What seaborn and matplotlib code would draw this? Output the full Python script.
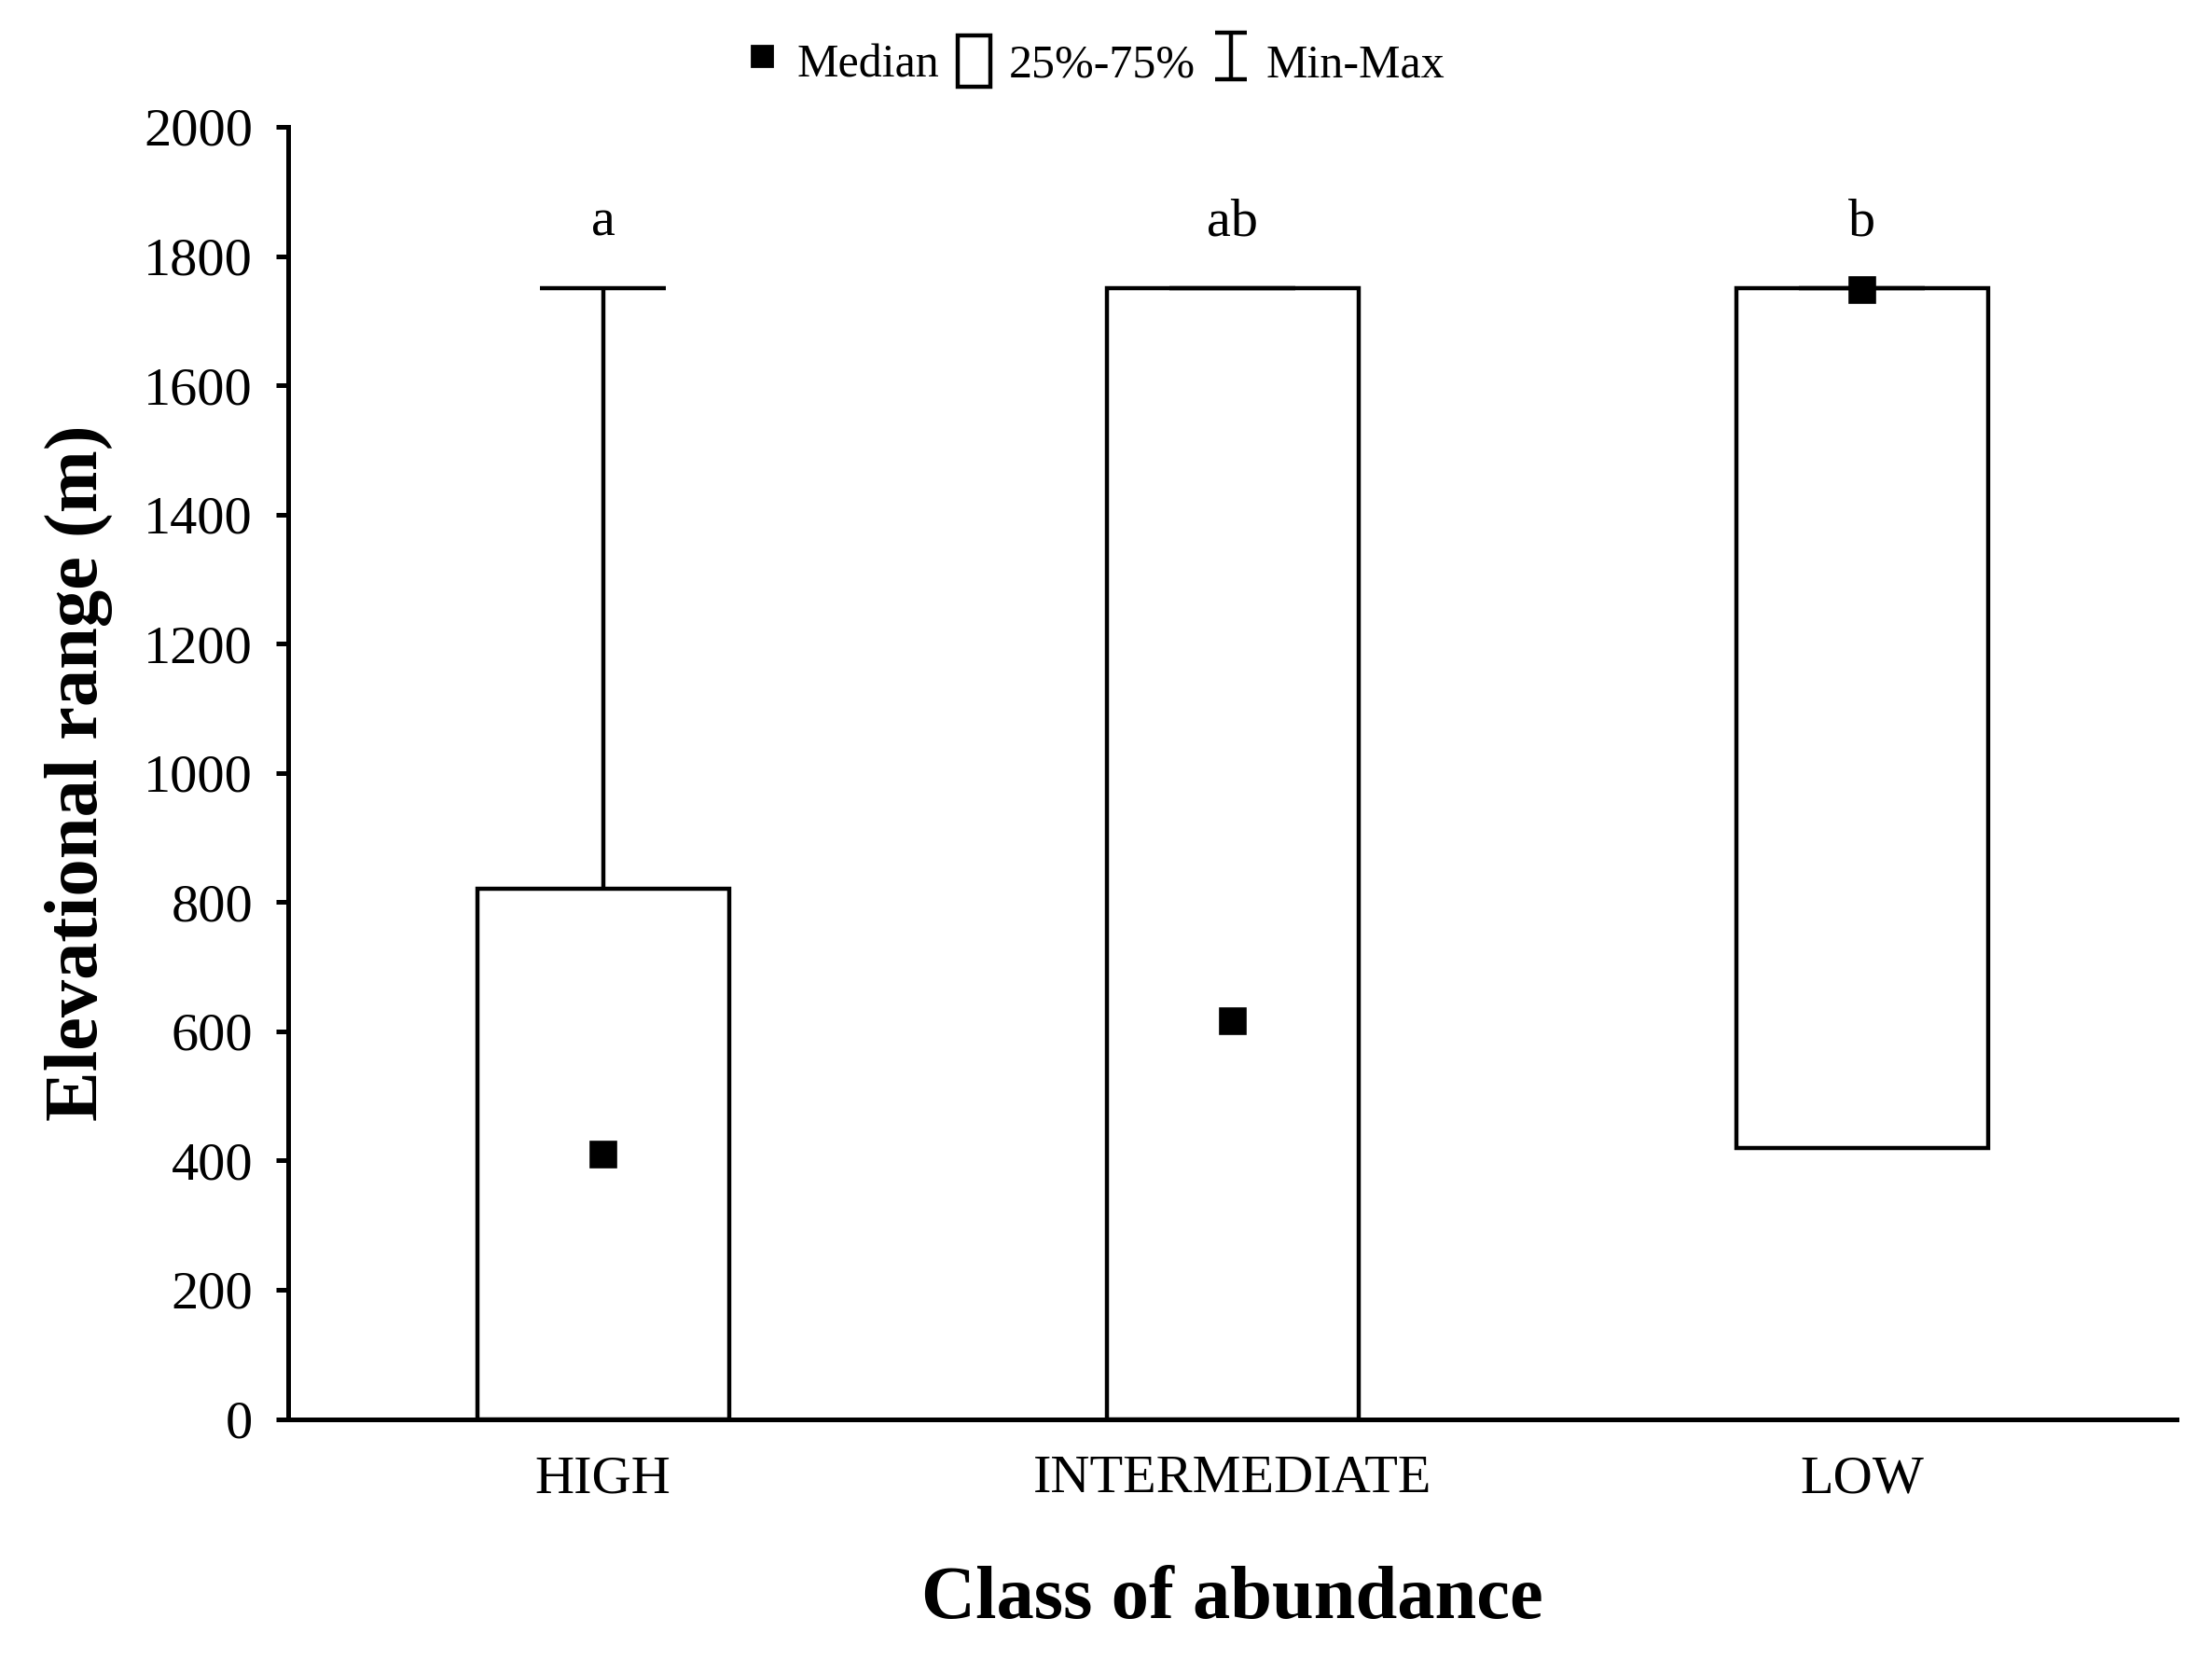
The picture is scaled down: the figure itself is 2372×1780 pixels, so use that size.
import matplotlib
matplotlib.use("Agg")
import matplotlib.pyplot as plt
import seaborn as sns
import pandas as pd
from matplotlib.patches import Patch
from matplotlib.lines import Line2D

# summary values (m)
classes = ['HIGH', 'INTERMEDIATE', 'LOW']
minimum = [0, 0, 420]
q25 = [0, 0, 420]
median = [410, 615, 1748]
q75 = [820, 1750, 1750]
maximum = [1750, 1750, 1750]
letters = ['a', 'ab', 'b']

sns.set_style('white')
plt.rcParams['font.family'] = ['Liberation Serif', 'DejaVu Serif']
plt.rcParams['mathtext.fontset'] = 'stix'
for k in ['text.color', 'axes.labelcolor', 'xtick.color', 'ytick.color']:
    plt.rcParams[k] = 'black'

df = pd.DataFrame({'cls': classes, 'median': median})

fig = plt.figure(figsize=(11.86, 8.9), dpi=200)
ax = fig.add_axes([0.1303, 0.1452, 0.8537, 0.7784])

lw = 1.6
box_w = 0.4
cap_w = 0.2

# medians via seaborn (sets up the categorical axis)
sns.pointplot(data=df, x='cls', y='median', order=classes, markers='s',
              linestyles='none', color='black', errorbar=None,
              markersize=8.5, ax=ax, zorder=5)

pos = list(range(len(classes)))

# 25%-75% boxes
ax.bar(pos, [b - a for a, b in zip(q25, q75)], bottom=q25, width=box_w,
       color='white', edgecolor='black', linewidth=lw, zorder=2)

# min-max whiskers
ax.vlines(pos, q75, maximum, color='black', linewidth=lw, zorder=1)
ax.vlines(pos, minimum, q25, color='black', linewidth=lw, zorder=1)
ax.hlines(maximum, [p - cap_w / 2 for p in pos], [p + cap_w / 2 for p in pos],
          color='black', linewidth=lw, zorder=3)

for p, t in zip(pos, letters):
    ax.text(p, 1832, t, ha='center', va='baseline', fontsize=21)

ax.set_xlim(-0.5, 2.5)
ax.set_ylim(0, 2000)
ax.set_yticks(range(0, 2001, 200))

for s in ['top', 'right']:
    ax.spines[s].set_visible(False)
for s in ['left', 'bottom']:
    ax.spines[s].set_color('black')
    ax.spines[s].set_linewidth(1.8)

ax.tick_params(axis='y', which='major', left=True, length=4.7, width=1.8,
               color='black', direction='out', labelsize=21, pad=9)
ax.tick_params(axis='x', length=0, labelsize=21, pad=14)

ax.set_xlabel('Class of abundance', fontsize=29, fontweight='bold', labelpad=24)
ax.set_ylabel('Elevational range (m)', fontsize=29, fontweight='bold', labelpad=12)

# legend
eb = ax.errorbar([-10], [0], yerr=[1], fmt='none', ecolor='black',
                 elinewidth=lw, capsize=6, capthick=lw)
handles = [Line2D([], [], linestyle='none', marker='s', color='black', markersize=8),
           Patch(facecolor='white', edgecolor='black', linewidth=lw),
           eb]
fig.legend(handles, ['Median', '25%-75%', 'Min-Max'], loc='center',
           bbox_to_anchor=(0.495, 0.963), ncol=3, frameon=False, fontsize=18,
           handlelength=0.7, handleheight=1.3, handletextpad=0.4,
           columnspacing=0.4)

fig.savefig('out.png', dpi=200)
